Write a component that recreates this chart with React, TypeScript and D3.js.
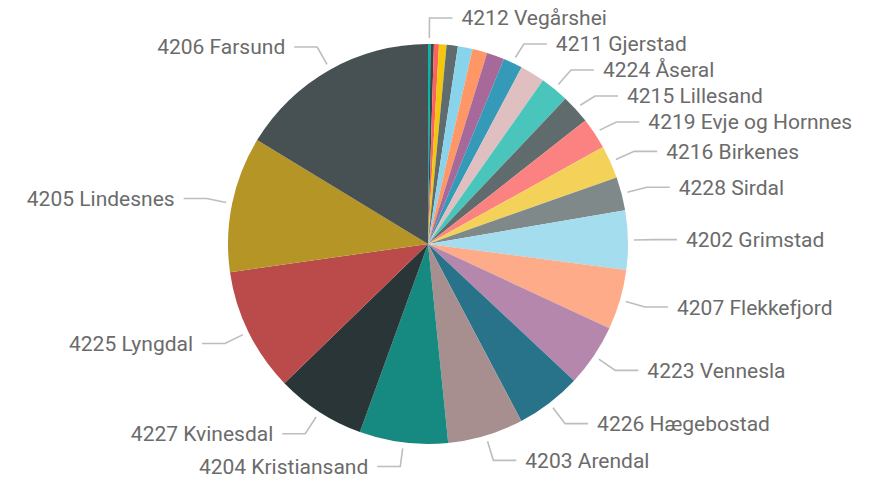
import React from "react";
import * as d3 from "d3";

// Slices in drawing order (clockwise from 12 o'clock), ascending
const names = [
  "4212 Vegårshei", "4222 Bykle", "4221 Valle", "4220 Bygland", "4218 Iveland",
  "4217 Åmli", "4214 Froland", "4213 Tvedestrand", "4211 Gjerstad", "4201 Risør",
  "4224 Åseral", "4215 Lillesand", "4219 Evje og Hornnes", "4216 Birkenes", "4228 Sirdal",
  "4202 Grimstad", "4207 Flekkefjord", "4223 Vennesla", "4226 Hægebostad", "4203 Arendal",
  "4204 Kristiansand", "4227 Kvinesdal", "4225 Lyngdal", "4205 Lindesnes", "4206 Farsund",
];
const values = [
  0.75, 0.95, 1.45, 2.2, 3.25,
  4.3, 4.3, 5.1, 5.6, 7.2,
  8.3, 8.5, 9.1, 9.6, 9.7,
  17.2, 17.4, 18.2, 19.1, 22.0,
  25.7, 26.0, 36.0, 39.4, 58.7,
];
const colors = [
  "#01B8AA", "#374649", "#FD625E", "#F2C80F", "#5F6B6D",
  "#8AD4EB", "#FE9666", "#A66999", "#3599B8", "#DFBFBF",
  "#4AC5BB", "#5F6B6D", "#FB8281", "#F4D25A", "#7F898A",
  "#A4DDEE", "#FDAB89", "#B687AC", "#28738A", "#A78F8F",
  "#168980", "#293537", "#BB4A4A", "#B59525", "#475052",
];
const labelled = [
  "4212 Vegårshei", "4211 Gjerstad", "4224 Åseral", "4215 Lillesand", "4219 Evje og Hornnes",
  "4216 Birkenes", "4228 Sirdal", "4202 Grimstad", "4207 Flekkefjord", "4223 Vennesla",
  "4226 Hægebostad", "4203 Arendal", "4204 Kristiansand", "4227 Kvinesdal", "4225 Lyngdal",
  "4205 Lindesnes", "4206 Farsund",
];

const W = 879;
const H = 479;
const cx = 428;
const cy = 244;
const R = 200;
const FONT = 21;

export default function App() {
  const data = names.map((n, i) => ({ name: n, value: values[i], color: colors[i] }));
  const pie = d3.pie<any>().value((d) => d.value).sort(null).startAngle(0).endAngle(2 * Math.PI);
  const arcs = pie(data);
  const arcGen = d3.arc<any>().innerRadius(0).outerRadius(R);

  const pt = (a: number, r: number) => [Math.sin(a) * r, -Math.cos(a) * r];

  type L = { name: string; side: number; sx: number; sy: number; ex: number; ey: number; y: number };
  const labels: L[] = [];
  const maxY = H - cy - 12.5;
  arcs.forEach((a) => {
    if (!labelled.includes(a.data.name)) return;
    const mid = (a.startAngle + a.endAngle) / 2;
    const [sx, sy] = pt(mid, R + 6);
    const [ex, ey] = pt(mid, R + 26);
    labels.push({ name: a.data.name, side: mid < Math.PI ? 1 : -1, sx, sy, ex, ey, y: Math.min(ey, maxY) });
  });
  // simple collision avoidance per side
  [1, -1].forEach((side) => {
    const group = labels.filter((l) => l.side === side).sort((a, b) => a.y - b.y);
    for (let i = 1; i < group.length; i++) {
      if (group[i].y - group[i - 1].y < 26) group[i].y = group[i - 1].y + 26;
    }
  });

  return (
    <svg width={W} height={H} style={{ position: "absolute", left: 0, top: 0, background: "#fff" }}>
      <g transform={`translate(${cx},${cy})`}>
        {arcs.map((a, i) => (
          <path key={i} d={arcGen(a) as string} fill={a.data.color} />
        ))}
        {labels.map((l, i) => {
          const hx = l.ex + l.side * 23;
          const tx = hx + l.side * 9;
          return (
            <g key={i}>
              <polyline
                points={`${l.sx},${l.sy} ${l.ex},${l.y} ${hx},${l.y}`}
                fill="none"
                stroke="#bdbdbd"
                strokeWidth={1.6}
              />
              <text
                x={tx}
                y={l.y + FONT * 0.355}
                textAnchor={l.side === 1 ? "start" : "end"}
                fontFamily="Roboto, 'Noto Sans', sans-serif"
                fontSize={FONT}
                fill="#6b6b6b"
              >
                {l.name}
              </text>
            </g>
          );
        })}
      </g>
    </svg>
  );
}
